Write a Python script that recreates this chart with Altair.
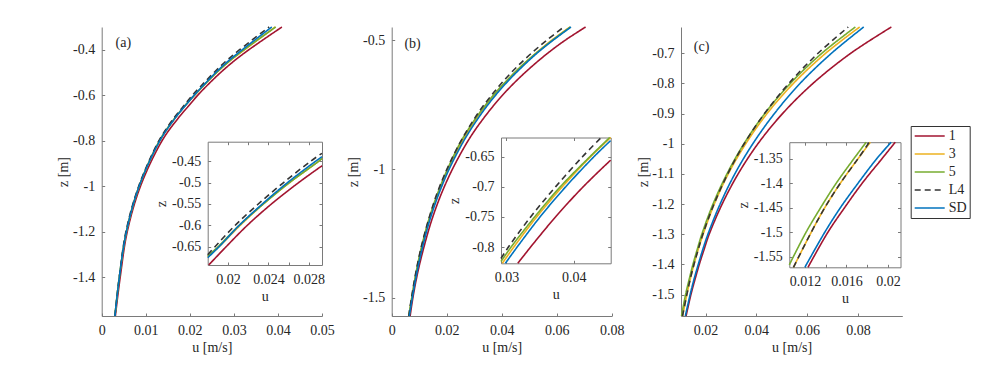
import altair as alt
import pandas as pd

SERIES = ["1", "3", "5", "L4", "SD"]
COLORS = ["#A2142F", "#EDB120", "#77AC30", "#333333", "#0072BD"]
DASHES = [[1, 0], [1, 0], [1, 0], [6, 4], [1, 0]]

# ---------------- panel (a) main ----------------
A_Z = [-1.5708, -1.4, -1.2, -1.0, -0.8, -0.7, -0.65, -0.6, -0.55, -0.5, -0.45, -0.4, -0.3]
A_U1 = [0.0031, 0.0042, 0.0058, 0.0088, 0.0137, 0.0174, 0.0196, 0.0218, 0.0243, 0.0270, 0.0300, 0.0334, 0.0409]
A_U3 = [0.0030, 0.0040, 0.0056, 0.0085, 0.0132, 0.0167, 0.0188, 0.0211, 0.0235, 0.0261, 0.0290, 0.0324, 0.0394]
A_U5 = [0.0030, 0.0040, 0.0056, 0.0085, 0.0131, 0.0166, 0.0187, 0.0210, 0.0235, 0.0261, 0.0290, 0.0323, 0.0395]
A_UL4 = [0.0030, 0.0040, 0.0055, 0.0084, 0.0130, 0.0164, 0.0185, 0.0206, 0.0230, 0.0255, 0.0282, 0.0313, 0.0380]
A_USD = [0.0030, 0.0040, 0.0056, 0.0085, 0.0132, 0.0167, 0.0188, 0.0210, 0.0234, 0.0259, 0.0287, 0.0319, 0.0386]

# ---------------- panel (b) main ----------------
B_Z = [-1.5708, -1.5, -1.4, -1.3, -1.2, -1.1, -1.0, -0.9, -0.85, -0.8, -0.75, -0.7, -0.65, -0.6, -0.55, -0.5, -0.448]
B_U1 = [0.0067, 0.0077, 0.0095, 0.0118, 0.0145, 0.0179, 0.0221, 0.0272, 0.0302, 0.0336, 0.0373, 0.0414, 0.0460, 0.0511, 0.0567, 0.0630, 0.0705]
B_U3 = [0.0063, 0.0073, 0.0090, 0.0110, 0.0135, 0.0167, 0.0205, 0.0253, 0.0280, 0.0311, 0.0345, 0.0383, 0.0425, 0.0472, 0.0524, 0.0581, 0.0648]
B_U5 = [0.0062, 0.0073, 0.0089, 0.0109, 0.0134, 0.0165, 0.0203, 0.0248, 0.0276, 0.0307, 0.0342, 0.0380, 0.0424, 0.0471, 0.0525, 0.0584, 0.0650]
B_UL4 = [0.0062, 0.0072, 0.0088, 0.0108, 0.0133, 0.0163, 0.0201, 0.0247, 0.0274, 0.0303, 0.0336, 0.0373, 0.0413, 0.0458, 0.0508, 0.0563, 0.0626]
B_USD = [0.0064, 0.0075, 0.0092, 0.0113, 0.0138, 0.0170, 0.0209, 0.0257, 0.0285, 0.0316, 0.0350, 0.0388, 0.0430, 0.0477, 0.0528, 0.0586, 0.0652]

# ---------------- panel (c) main ----------------
C_Z = [-1.5708, -1.5, -1.45, -1.4, -1.35, -1.3, -1.2, -1.1, -1.0, -0.9, -0.8, -0.7, -0.613]
C_U1 = [0.0123, 0.0142, 0.0158, 0.0175, 0.0194, 0.0214, 0.0265, 0.0328, 0.0406, 0.0503, 0.0623, 0.0772, 0.0932]
C_U3 = [0.0109, 0.0126, 0.0139, 0.0154, 0.0171, 0.0190, 0.0234, 0.0289, 0.0358, 0.0442, 0.0546, 0.0673, 0.0807]
C_U5 = [0.0105, 0.0121, 0.0135, 0.0150, 0.0167, 0.0185, 0.0229, 0.0284, 0.0351, 0.0433, 0.0534, 0.0658, 0.0790]
C_UL4 = [0.0109, 0.0126, 0.0139, 0.0154, 0.0171, 0.0189, 0.0233, 0.0287, 0.0352, 0.0432, 0.0528, 0.0643, 0.0762]
C_USD = [0.0120, 0.0139, 0.0154, 0.0171, 0.0189, 0.0209, 0.0257, 0.0315, 0.0386, 0.0471, 0.0572, 0.0696, 0.0823]

# ---------------- insets (read inside each inset frame) ----------------
IA_Z1 = [-0.692, -0.65, -0.6, -0.55, -0.5, -0.461]
IA_U1 = [0.0181, 0.0198, 0.0219, 0.0243, 0.0270, 0.0293]
IA_Z3 = [-0.673, -0.65, -0.6, -0.55, -0.5, -0.45, -0.444]
IA_U3 = [0.0180, 0.0191, 0.0212, 0.0235, 0.0261, 0.0290, 0.0293]
IA_Z5 = [-0.671, -0.65, -0.6, -0.55, -0.5, -0.45, -0.444]
IA_U5 = [0.0180, 0.0190, 0.0211, 0.0235, 0.0261, 0.0290, 0.0293]
IA_ZL4 = [-0.668, -0.65, -0.6, -0.55, -0.5, -0.45, -0.432]
IA_UL4 = [0.0180, 0.0187, 0.0207, 0.0230, 0.0255, 0.0282, 0.0293]
IA_ZSD = [-0.675, -0.65, -0.6, -0.55, -0.5, -0.45, -0.44]
IA_USD = [0.0180, 0.0191, 0.0211, 0.0234, 0.0259, 0.0287, 0.0293]

IB_Z1 = [-0.827, -0.8, -0.75, -0.7, -0.6555]
IB_U1 = [0.0317, 0.0336, 0.0373, 0.0414, 0.0455]
IB_Z3 = [-0.827, -0.8, -0.75, -0.7, -0.65, -0.618]
IB_U3 = [0.0294, 0.0311, 0.0345, 0.0383, 0.0425, 0.0455]
IB_Z5 = [-0.824, -0.8, -0.75, -0.7, -0.65, -0.618]
IB_U5 = [0.0292, 0.0307, 0.0342, 0.0380, 0.0424, 0.04535]
IB_ZL4 = [-0.819, -0.8, -0.75, -0.7, -0.65, -0.618]
IB_UL4 = [0.0292, 0.0303, 0.0336, 0.0373, 0.0413, 0.0441]
IB_ZSD = [-0.827, -0.8, -0.75, -0.7, -0.65, -0.623]
IB_USD = [0.02985, 0.0316, 0.0350, 0.0388, 0.0430, 0.0455]

IC_Z1 = [-1.571, -1.5, -1.45, -1.4, -1.35, -1.316]
IC_U1 = [0.0123, 0.0142, 0.0158, 0.0175, 0.0194, 0.0207]
IC_Z3 = [-1.571, -1.5, -1.45, -1.4, -1.35, -1.316]
IC_U3 = [0.0109, 0.0126, 0.0139, 0.0154, 0.0171, 0.0183]
IC_Z5 = [-1.566, -1.5, -1.45, -1.4, -1.35, -1.316]
IC_U5 = [0.0105, 0.0121, 0.0135, 0.0150, 0.0167, 0.0179]
IC_ZL4 = [-1.571, -1.5, -1.45, -1.4, -1.35, -1.316]
IC_UL4 = [0.0109, 0.0126, 0.0139, 0.0154, 0.0171, 0.0182]
IC_ZSD = [-1.571, -1.5, -1.45, -1.4, -1.35, -1.316]
IC_USD = [0.0120, 0.0139, 0.0154, 0.0171, 0.0189, 0.0203]

# ---------------- axes domains and ticks ----------------
A_XDOM, A_YDOM = [0.0, 0.05], [-1.5708, -0.3]
B_XDOM, B_YDOM = [0.0, 0.08], [-1.5708, -0.448]
C_XDOM, C_YDOM = [0.0103, 0.0975], [-1.5708, -0.613]
IA_XDOM, IA_YDOM = [0.018, 0.0293], [-0.692, -0.405]
IB_XDOM, IB_YDOM = [0.0292, 0.0455], [-0.827, -0.618]
IC_XDOM, IC_YDOM = [0.0105, 0.0212], [-1.571, -1.316]

A_XT = [0, 0.01, 0.02, 0.03, 0.04, 0.05]
A_YT = [-1.4, -1.2, -1, -0.8, -0.6, -0.4]
B_XT = [0, 0.02, 0.04, 0.06, 0.08]
B_YT = [-1.5, -1, -0.5]
C_XT = [0.02, 0.04, 0.06, 0.08]
C_YT = [-1.5, -1.4, -1.3, -1.2, -1.1, -1, -0.9, -0.8, -0.7]
IA_XT, IA_XL = [0.02, 0.022, 0.024, 0.026, 0.028], [0.02, 0.024, 0.028]
IA_YT = [-0.65, -0.6, -0.55, -0.5, -0.45]
IB_XT, IB_XL = [0.03, 0.04], [0.03, 0.04]
IB_YT = [-0.8, -0.75, -0.7, -0.65]
IC_XT, IC_XL = [0.012, 0.014, 0.016, 0.018, 0.02], [0.012, 0.016, 0.02]
IC_YT = [-1.55, -1.5, -1.45, -1.4, -1.35]

TAGS = ["(a)", "(b)", "(c)"]
TAG_U = [0.0049, 0.0076, 0.0184]
TAG_Z = [-0.371, -0.513, -0.680]

# ---------------- layout (pixels) ----------------
W, H = 981, 349
FONT = "Liberation Serif"
TXT = "#262626"
AXC = "#7a7a7a"

PA_X, PA_Y = [93.7, 314.0], [308.0, 19.0]
PB_X, PB_Y = [383.7, 603.7], [308.0, 19.0]
PC_X, PC_Y = [673.0, 894.3], [308.0, 19.0]
IA_X, IA_Y = [199.7, 314.0], [257.0, 133.7]
IB_X, IB_Y = [493.0, 602.7], [255.3, 129.5]
IC_X, IC_Y = [781.3, 892.5], [259.3, 134.2]
YTITLE_DX = [-38.7, -38.7, -38.0]


def frame(zs, us):
    rows = []
    for s, z, u in zip(SERIES, zs, us):
        for zz, uu in zip(z, u):
            rows.append({"series": s, "z": zz, "u": uu})
    return pd.DataFrame(rows)


AX_KW = dict(
    tickSize={"expr": "-3"}, tickColor=AXC, tickWidth=1,
    domainColor=AXC, domainWidth=1, grid=False,
    labelFont=FONT, labelFontSize=14, labelColor=TXT, labelPadding=10,
    labelOverlap=False, labelFlush=False,
    titleFont=FONT, titleFontSize=14, titleFontWeight="normal",
    titleColor=TXT, titlePadding=3,
)

LEGEND = alt.Legend(
    title=None, orient="none", legendX=902.7, legendY=118,
    symbolType="stroke", symbolSize=900, symbolStrokeWidth=1.6,
    labelFont=FONT, labelFontSize=14, labelColor=TXT, labelOffset=3,
    strokeColor="#333333", fillColor="white", padding=3, rowPadding=4,
    clipHeight=14,
)


def enc_series():
    return dict(
        color=alt.Color("series:N", scale=alt.Scale(domain=SERIES, range=COLORS), legend=LEGEND, sort=SERIES),
        strokeDash=alt.StrokeDash("series:N", scale=alt.Scale(domain=SERIES, range=DASHES), legend=LEGEND, sort=SERIES),
    )


def main_panel(df, xdom, ydom, xr, yr, xt, yt, k):
    xs = alt.Scale(domain=xdom, range=xr, nice=False, zero=False)
    ys = alt.Scale(domain=ydom, range=yr, nice=False, zero=False)
    xa = alt.Axis(orient="bottom", offset=yr[0] - H, values=xt, title="u [m/s]",
                  labelExpr="toString(datum.value)", **AX_KW)
    ya = alt.Axis(orient="left", offset=-xr[0], values=yt, title="z [m]",
                  labelExpr="toString(datum.value)", titleX=YTITLE_DX[k],
                  titleY=(yr[0] + yr[1]) / 2, titleBaseline="middle", titleAngle=270,
                  titleAlign="center", **AX_KW)
    lines = alt.Chart(df).mark_line(strokeWidth=1.6, interpolate="catmull-rom").encode(
        x=alt.X("u:Q", scale=xs, axis=xa),
        y=alt.Y("z:Q", scale=ys, axis=ya),
        **enc_series(),
    )
    tag_df = pd.DataFrame({"u": [TAG_U[k]], "z": [TAG_Z[k]], "t": [TAGS[k]]})
    tag = alt.Chart(tag_df).mark_text(font=FONT, fontSize=14, color=TXT).encode(
        x=alt.X("u:Q", scale=xs, axis=xa), y=alt.Y("z:Q", scale=ys, axis=ya), text="t:N")
    return alt.layer(lines, tag)


def inset_panel(df, xdom, ydom, xr, yr, xt, xl, yt):
    xs = alt.Scale(domain=xdom, range=xr, nice=False, zero=False)
    ys = alt.Scale(domain=ydom, range=yr, nice=False, zero=False)
    lab = "indexof(" + str(xl) + ", datum.value) >= 0 ? toString(datum.value) : ''"
    lines = alt.Chart(df).mark_line(strokeWidth=1.6, interpolate="catmull-rom").encode(
        x=alt.X("u:Q", scale=xs, axis=alt.Axis(orient="bottom", offset=yr[0] - H, values=xt,
                                                title="u", labelExpr=lab, **AX_KW)),
        y=alt.Y("z:Q", scale=ys, axis=alt.Axis(orient="left", offset=-xr[0], values=yt,
                                                title="z", labelExpr="toString(datum.value)", **AX_KW)),
        **enc_series(),
    )
    box = alt.Chart(df).mark_line(strokeOpacity=0).encode(
        x=alt.X("u:Q", axis=alt.Axis(orient="top", offset=-yr[1], values=xt, labels=False, title=None, **AX_KW)),
        y=alt.Y("z:Q", axis=alt.Axis(orient="right", offset=xr[1] - W, values=yt, labels=False, title=None, **AX_KW)),
        detail="series:N",
    )
    return alt.layer(lines, box)


main_a = main_panel(frame([A_Z] * 5, [A_U1, A_U3, A_U5, A_UL4, A_USD]), A_XDOM, A_YDOM, PA_X, PA_Y, A_XT, A_YT, 0)
main_b = main_panel(frame([B_Z] * 5, [B_U1, B_U3, B_U5, B_UL4, B_USD]), B_XDOM, B_YDOM, PB_X, PB_Y, B_XT, B_YT, 1)
main_c = main_panel(frame([C_Z] * 5, [C_U1, C_U3, C_U5, C_UL4, C_USD]), C_XDOM, C_YDOM, PC_X, PC_Y, C_XT, C_YT, 2)
ins_a = inset_panel(frame([IA_Z1, IA_Z3, IA_Z5, IA_ZL4, IA_ZSD], [IA_U1, IA_U3, IA_U5, IA_UL4, IA_USD]),
                    IA_XDOM, IA_YDOM, IA_X, IA_Y, IA_XT, IA_XL, IA_YT)
ins_b = inset_panel(frame([IB_Z1, IB_Z3, IB_Z5, IB_ZL4, IB_ZSD], [IB_U1, IB_U3, IB_U5, IB_UL4, IB_USD]),
                    IB_XDOM, IB_YDOM, IB_X, IB_Y, IB_XT, IB_XL, IB_YT)
ins_c = inset_panel(frame([IC_Z1, IC_Z3, IC_Z5, IC_ZL4, IC_ZSD], [IC_U1, IC_U3, IC_U5, IC_UL4, IC_USD]),
                    IC_XDOM, IC_YDOM, IC_X, IC_Y, IC_XT, IC_XL, IC_YT)

chart = alt.layer(main_a, ins_a, main_b, ins_b, main_c, ins_c).resolve_scale(
    x="independent", y="independent"
).properties(
    width=W, height=H, padding=0, autosize=alt.AutoSizeParams(type="none"),
    background="white",
).configure_view(stroke=None)

chart.save("out.html", embed_options={"renderer": "svg", "actions": False})
